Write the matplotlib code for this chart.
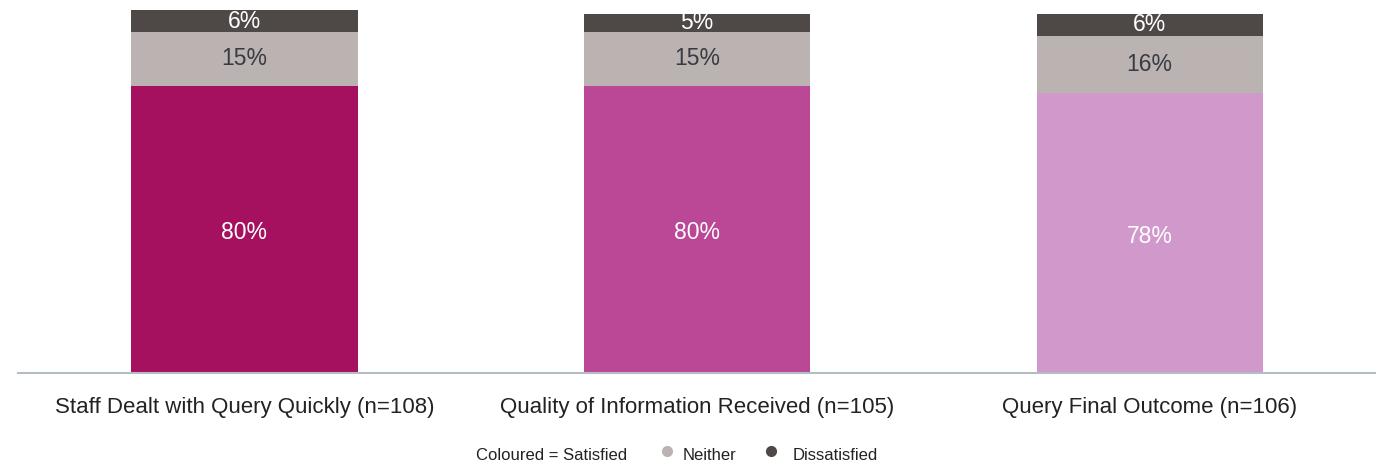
import matplotlib.pyplot as plt
import numpy as np

plt.rcParams['font.family'] = ['Liberation Sans', 'DejaVu Sans']

# dados
categorias = ["Staff Dealt with Query Quickly (n=108)",
              "Quality of Information Received (n=105)",
              "Query Final Outcome (n=106)"]
satisfeito = [80, 80, 78]
neutro = [15, 15, 16]
insatisfeito = [6, 5, 6]

cores_sat = ["#A6115F", "#BA4896", "#D198CB"]
cor_neutro = "#BAB3B2"
cor_insat = "#4E4847"

fig = plt.figure(figsize=(13.76, 4.66), dpi=100)
ax = fig.add_axes([18 / 1376, (466 - 373) / 466, (1376 - 18) / 1376, 373 / 466])

x = np.arange(len(categorias))
largura = 0.5
sat = np.array(satisfeito)
neu = np.array(neutro)
ins = np.array(insatisfeito)

ax.bar(x, sat, largura, color=cores_sat)
ax.bar(x, neu, largura, bottom=sat, color=cor_neutro)
ax.bar(x, ins, largura, bottom=sat + neu, color=cor_insat)

# rótulos dentro das barras
for i in range(len(x)):
    ax.text(x[i], sat[i] / 2 - 1, f"{sat[i]}%", ha="center", va="center",
            color="white", fontsize=16.5)
    ax.text(x[i], sat[i] + neu[i] / 2, f"{neu[i]}%", ha="center", va="center",
            color="#3a3a44", fontsize=16.5)
    ax.text(x[i], sat[i] + neu[i] + ins[i] / 2, f"{ins[i]}%", ha="center",
            va="center", color="white", fontsize=16.5)

ax.set_xlim(-0.5, 2.5)
ax.set_ylim(0, 103.9)
ax.set_xticks(x)
ax.set_xticklabels(categorias, fontsize=16, color="#222222")
ax.tick_params(axis="x", length=0, pad=17)
ax.set_yticks([])
for lado in ["top", "right", "left"]:
    ax.spines[lado].set_visible(False)
ax.spines["bottom"].set_color("#B4BCC4")
ax.spines["bottom"].set_linewidth(1.5)

# legenda manual
yl = 1 - 455 / 466
fig.text(476 / 1376, yl, "Coloured = Satisfied", fontsize=12, va="center", color="#222222")
fig.text(683 / 1376, yl, "Neither", fontsize=12, va="center", color="#222222")
fig.text(793 / 1376, yl, "Dissatisfied", fontsize=12, va="center", color="#222222")
fig.add_artist(plt.Line2D([667 / 1376], [yl + 0.008], marker="o", markersize=7,
                          color=cor_neutro, linestyle="none"))
fig.add_artist(plt.Line2D([771 / 1376], [yl + 0.008], marker="o", markersize=7,
                          color=cor_insat, linestyle="none"))

fig.savefig("out.png", dpi=100)
